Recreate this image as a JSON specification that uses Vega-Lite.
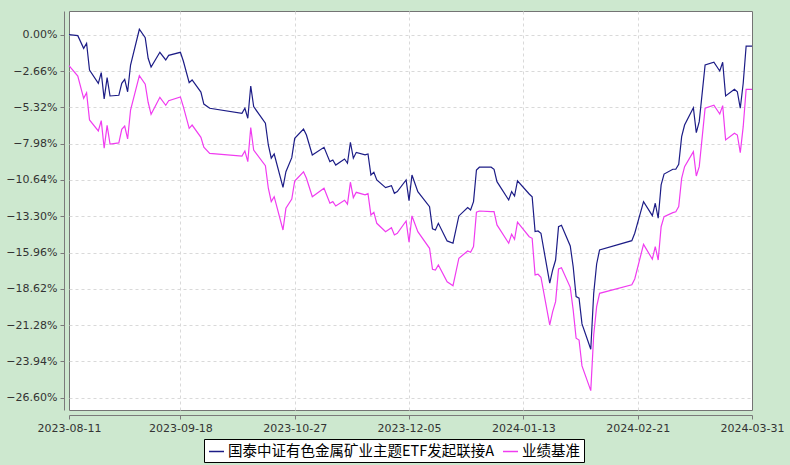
{
  "$schema": "https://vega.github.io/schema/vega-lite/v6.json",
  "width": 683,
  "height": 399,
  "autosize": {"type": "none"},
  "padding": {"left": 69, "top": 11, "right": 38, "bottom": 55},
  "background": "#cde8cf",
  "config": {
    "view": {"fill": "white", "stroke": "#747474", "strokeWidth": 1},
    "axis": {
      "labelFont": "DejaVu Sans",
      "labelFontSize": 11,
      "labelColor": "#333333",
      "domainColor": "#7a7a7a",
      "tickColor": "#7a7a7a",
      "tickSize": 4,
      "gridColor": "#d9d9d9",
      "gridDash": [3, 3],
      "gridWidth": 1,
      "title": null,
      "labelOverlap": false,
      "labelFlush": false
    }
  },
  "data": {
    "values": [
      {"date": "2023-08-11", "fund": 0.00, "benchmark": -2.27},
      {"date": "2023-08-14", "fund": -0.07, "benchmark": -3.03},
      {"date": "2023-08-16", "fund": -1.00, "benchmark": -4.66},
      {"date": "2023-08-17", "fund": -0.63, "benchmark": -4.25},
      {"date": "2023-08-18", "fund": -2.59, "benchmark": -6.25},
      {"date": "2023-08-21", "fund": -3.56, "benchmark": -7.05},
      {"date": "2023-08-22", "fund": -2.78, "benchmark": -6.30},
      {"date": "2023-08-23", "fund": -4.71, "benchmark": -8.32},
      {"date": "2023-08-24", "fund": -3.15, "benchmark": -6.64},
      {"date": "2023-08-25", "fund": -4.49, "benchmark": -8.01},
      {"date": "2023-08-28", "fund": -4.44, "benchmark": -7.93},
      {"date": "2023-08-29", "fund": -3.56, "benchmark": -6.93},
      {"date": "2023-08-30", "fund": -3.27, "benchmark": -6.69},
      {"date": "2023-08-31", "fund": -4.18, "benchmark": -7.64},
      {"date": "2023-09-01", "fund": -2.22, "benchmark": -5.52},
      {"date": "2023-09-04", "fund": 0.40, "benchmark": -3.00},
      {"date": "2023-09-06", "fund": -0.22, "benchmark": -3.63},
      {"date": "2023-09-07", "fund": -1.73, "benchmark": -4.95},
      {"date": "2023-09-08", "fund": -2.37, "benchmark": -5.83},
      {"date": "2023-09-11", "fund": -1.29, "benchmark": -4.59},
      {"date": "2023-09-13", "fund": -1.85, "benchmark": -5.17},
      {"date": "2023-09-14", "fund": -1.51, "benchmark": -4.84},
      {"date": "2023-09-18", "fund": -1.29, "benchmark": -4.56},
      {"date": "2023-09-19", "fund": -1.93, "benchmark": -5.27},
      {"date": "2023-09-21", "fund": -3.52, "benchmark": -6.86},
      {"date": "2023-09-22", "fund": -3.32, "benchmark": -6.62},
      {"date": "2023-09-25", "fund": -4.20, "benchmark": -7.52},
      {"date": "2023-09-26", "fund": -5.08, "benchmark": -8.25},
      {"date": "2023-09-28", "fund": -5.39, "benchmark": -8.69},
      {"date": "2023-10-09", "fund": -5.76, "benchmark": -8.89},
      {"date": "2023-10-10", "fund": -5.39, "benchmark": -8.52},
      {"date": "2023-10-11", "fund": -6.12, "benchmark": -9.30},
      {"date": "2023-10-12", "fund": -3.76, "benchmark": -6.81},
      {"date": "2023-10-13", "fund": -5.27, "benchmark": -8.45},
      {"date": "2023-10-17", "fund": -6.49, "benchmark": -9.60},
      {"date": "2023-10-18", "fund": -8.08, "benchmark": -11.25},
      {"date": "2023-10-19", "fund": -9.05, "benchmark": -12.23},
      {"date": "2023-10-20", "fund": -8.74, "benchmark": -11.87},
      {"date": "2023-10-23", "fund": -11.18, "benchmark": -14.31},
      {"date": "2023-10-24", "fund": -10.04, "benchmark": -12.72},
      {"date": "2023-10-26", "fund": -9.01, "benchmark": -12.04},
      {"date": "2023-10-27", "fund": -7.59, "benchmark": -10.72},
      {"date": "2023-10-30", "fund": -6.91, "benchmark": -10.04},
      {"date": "2023-10-31", "fund": -7.35, "benchmark": -10.52},
      {"date": "2023-11-02", "fund": -8.81, "benchmark": -11.87},
      {"date": "2023-11-06", "fund": -8.25, "benchmark": -11.25},
      {"date": "2023-11-08", "fund": -9.30, "benchmark": -12.35},
      {"date": "2023-11-09", "fund": -9.18, "benchmark": -12.23},
      {"date": "2023-11-10", "fund": -9.55, "benchmark": -12.55},
      {"date": "2023-11-13", "fund": -9.11, "benchmark": -12.13},
      {"date": "2023-11-14", "fund": -9.42, "benchmark": -12.42},
      {"date": "2023-11-15", "fund": -7.88, "benchmark": -10.81},
      {"date": "2023-11-16", "fund": -9.05, "benchmark": -11.94},
      {"date": "2023-11-17", "fund": -8.62, "benchmark": -11.55},
      {"date": "2023-11-20", "fund": -8.81, "benchmark": -11.74},
      {"date": "2023-11-21", "fund": -8.74, "benchmark": -11.65},
      {"date": "2023-11-22", "fund": -10.28, "benchmark": -13.21},
      {"date": "2023-11-23", "fund": -10.08, "benchmark": -13.01},
      {"date": "2023-11-24", "fund": -10.64, "benchmark": -13.82},
      {"date": "2023-11-27", "fund": -11.21, "benchmark": -14.43},
      {"date": "2023-11-29", "fund": -11.06, "benchmark": -14.14},
      {"date": "2023-11-30", "fund": -11.62, "benchmark": -14.67},
      {"date": "2023-12-01", "fund": -11.50, "benchmark": -14.55},
      {"date": "2023-12-04", "fund": -10.64, "benchmark": -13.65},
      {"date": "2023-12-05", "fund": -12.16, "benchmark": -15.21},
      {"date": "2023-12-06", "fund": -10.28, "benchmark": -13.28},
      {"date": "2023-12-08", "fund": -11.50, "benchmark": -14.43},
      {"date": "2023-12-12", "fund": -12.60, "benchmark": -15.65},
      {"date": "2023-12-13", "fund": -14.23, "benchmark": -17.19},
      {"date": "2023-12-14", "fund": -14.31, "benchmark": -17.24},
      {"date": "2023-12-15", "fund": -13.82, "benchmark": -16.87},
      {"date": "2023-12-18", "fund": -15.11, "benchmark": -18.10},
      {"date": "2023-12-20", "fund": -15.28, "benchmark": -18.39},
      {"date": "2023-12-22", "fund": -13.28, "benchmark": -16.38},
      {"date": "2023-12-25", "fund": -12.67, "benchmark": -15.85},
      {"date": "2023-12-26", "fund": -12.84, "benchmark": -15.94},
      {"date": "2023-12-27", "fund": -12.23, "benchmark": -15.53},
      {"date": "2023-12-28", "fund": -9.91, "benchmark": -13.01},
      {"date": "2023-12-29", "fund": -9.71, "benchmark": -12.92},
      {"date": "2024-01-02", "fund": -9.71, "benchmark": -12.97},
      {"date": "2024-01-03", "fund": -9.86, "benchmark": -12.97},
      {"date": "2024-01-04", "fund": -10.77, "benchmark": -13.94},
      {"date": "2024-01-08", "fund": -12.11, "benchmark": -15.28},
      {"date": "2024-01-09", "fund": -11.50, "benchmark": -14.62},
      {"date": "2024-01-10", "fund": -11.82, "benchmark": -14.99},
      {"date": "2024-01-11", "fund": -10.70, "benchmark": -13.74},
      {"date": "2024-01-15", "fund": -11.67, "benchmark": -14.80},
      {"date": "2024-01-16", "fund": -11.87, "benchmark": -14.92},
      {"date": "2024-01-17", "fund": -14.43, "benchmark": -17.60},
      {"date": "2024-01-18", "fund": -14.38, "benchmark": -17.55},
      {"date": "2024-01-19", "fund": -14.55, "benchmark": -17.77},
      {"date": "2024-01-22", "fund": -18.21, "benchmark": -21.27},
      {"date": "2024-01-23", "fund": -17.24, "benchmark": -20.29},
      {"date": "2024-01-24", "fund": -16.51, "benchmark": -19.56},
      {"date": "2024-01-25", "fund": -14.07, "benchmark": -17.16},
      {"date": "2024-01-26", "fund": -13.96, "benchmark": -17.07},
      {"date": "2024-01-29", "fund": -15.48, "benchmark": -18.51},
      {"date": "2024-01-30", "fund": -17.00, "benchmark": -20.17},
      {"date": "2024-01-31", "fund": -19.19, "benchmark": -22.24},
      {"date": "2024-02-01", "fund": -19.31, "benchmark": -22.37},
      {"date": "2024-02-02", "fund": -21.19, "benchmark": -24.27},
      {"date": "2024-02-05", "fund": -23.05, "benchmark": -26.08},
      {"date": "2024-02-06", "fund": -18.95, "benchmark": -22.00},
      {"date": "2024-02-07", "fund": -16.80, "benchmark": -19.93},
      {"date": "2024-02-08", "fund": -15.77, "benchmark": -18.95},
      {"date": "2024-02-19", "fund": -15.09, "benchmark": -18.32},
      {"date": "2024-02-20", "fund": -14.55, "benchmark": -17.90},
      {"date": "2024-02-23", "fund": -12.23, "benchmark": -15.36},
      {"date": "2024-02-26", "fund": -13.26, "benchmark": -16.45},
      {"date": "2024-02-27", "fund": -12.35, "benchmark": -15.53},
      {"date": "2024-02-28", "fund": -13.45, "benchmark": -16.51},
      {"date": "2024-02-29", "fund": -11.01, "benchmark": -14.07},
      {"date": "2024-03-01", "fund": -10.21, "benchmark": -13.33},
      {"date": "2024-03-04", "fund": -9.86, "benchmark": -13.04},
      {"date": "2024-03-05", "fund": -9.86, "benchmark": -12.97},
      {"date": "2024-03-06", "fund": -9.49, "benchmark": -12.60},
      {"date": "2024-03-07", "fund": -7.47, "benchmark": -10.52},
      {"date": "2024-03-08", "fund": -6.62, "benchmark": -9.67},
      {"date": "2024-03-11", "fund": -5.35, "benchmark": -8.57},
      {"date": "2024-03-12", "fund": -7.18, "benchmark": -10.35},
      {"date": "2024-03-13", "fund": -6.37, "benchmark": -9.67},
      {"date": "2024-03-15", "fund": -2.22, "benchmark": -5.39},
      {"date": "2024-03-18", "fund": -2.02, "benchmark": -5.17},
      {"date": "2024-03-20", "fund": -2.66, "benchmark": -5.81},
      {"date": "2024-03-21", "fund": -2.02, "benchmark": -5.20},
      {"date": "2024-03-22", "fund": -4.49, "benchmark": -7.71},
      {"date": "2024-03-25", "fund": -4.00, "benchmark": -7.22},
      {"date": "2024-03-26", "fund": -4.18, "benchmark": -7.35},
      {"date": "2024-03-27", "fund": -5.39, "benchmark": -8.64},
      {"date": "2024-03-28", "fund": -3.56, "benchmark": -6.74},
      {"date": "2024-03-29", "fund": -0.83, "benchmark": -4.00},
      {"date": "2024-03-31", "fund": -0.83, "benchmark": -4.00}
    ]
  },
  "transform": [{"fold": ["fund", "benchmark"], "as": ["series", "value"]}],
  "mark": {"type": "line", "strokeWidth": 1.2, "interpolate": "linear"},
  "encoding": {
    "x": {
      "field": "date",
      "type": "temporal",
      "scale": {
        "type": "utc",
        "domain": [
          {"year": 2023, "month": 8, "date": 11, "utc": true},
          {"year": 2024, "month": 3, "date": 31, "utc": true}
        ]
      },
      "axis": {
        "offset": 5,
        "labelPadding": 3,
        "values": [
          {"year": 2023, "month": 8, "date": 11, "utc": true},
          {"year": 2023, "month": 9, "date": 18, "utc": true},
          {"year": 2023, "month": 10, "date": 27, "utc": true},
          {"year": 2023, "month": 12, "date": 5, "utc": true},
          {"year": 2024, "month": 1, "date": 13, "utc": true},
          {"year": 2024, "month": 2, "date": 21, "utc": true},
          {"year": 2024, "month": 3, "date": 31, "utc": true}
        ],
        "gridOpacity": {
          "condition": {"test": "datum.value < 1692000000000 || datum.value > 1711500000000", "value": 0},
          "value": 1
        },
        "labelExpr": "utcFormat(datum.value, '%Y-%m-%d')"
      }
    },
    "y": {
      "field": "value",
      "type": "quantitative",
      "scale": {"domain": [-27.5, 1.737], "nice": false, "zero": false},
      "axis": {
        "offset": 5,
        "labelPadding": 3,
        "values": [0, -2.66, -5.32, -7.98, -10.64, -13.3, -15.96, -18.62, -21.28, -23.94, -26.6],
        "labelExpr": "format(datum.value, '.2f') + '%'"
      }
    },
    "color": {
      "field": "series",
      "type": "nominal",
      "sort": ["fund", "benchmark"],
      "scale": {"domain": ["fund", "benchmark"], "range": ["#1c1c86", "#f03cf0"]},
      "legend": {
        "title": null,
        "orient": "none",
        "direction": "horizontal",
        "legendX": 135,
        "legendY": 428,
        "fillColor": "white",
        "strokeColor": "black",
        "padding": 4,
        "symbolType": "stroke",
        "symbolSize": 225,
        "symbolStrokeWidth": 1.5,
        "labelOffset": 3,
        "columnPadding": 5,
        "labelFont": "Noto Sans CJK SC",
        "labelFontSize": 14.5,
        "labelColor": "#000000",
        "labelLimit": 500,
        "labelExpr": "datum.value == 'fund' ? '国泰中证有色金属矿业主题ETF发起联接A' : '业绩基准'"
      }
    }
  }
}
